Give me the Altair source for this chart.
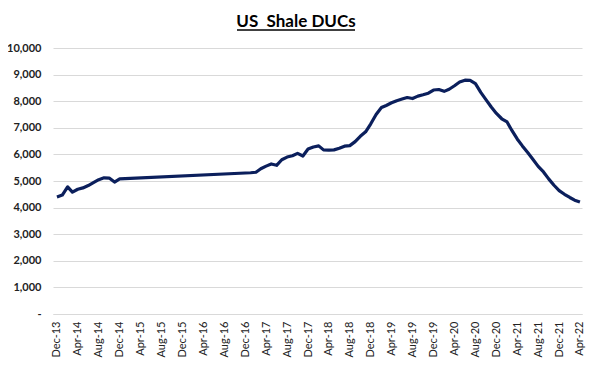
import altair as alt
import pandas as pd

# Monthly DUC counts, first segment Dec-13 .. Dec-14
seg1_start = "2013-12-01"
seg1_values = [4400, 4470, 4780, 4580, 4690, 4740, 4830, 4940, 5050, 5120, 5110, 4960, 5080]

# Second segment Jan-17 .. Apr-22
seg2_start = "2017-01-01"
seg2_values = [
    5310, 5330, 5460, 5560, 5640, 5590, 5800, 5900, 5950, 6040, 5940, 6200,  # 2017
    6280, 6320, 6170, 6160, 6170, 6230, 6310, 6330, 6480, 6680, 6850, 7150,  # 2018
    7500, 7760, 7840, 7940, 8020, 8080, 8140, 8100, 8190, 8240, 8300, 8420,  # 2019
    8440, 8370, 8450, 8580, 8720, 8790, 8780, 8660, 8330, 8060, 7780, 7540,  # 2020
    7340, 7220, 6900, 6580, 6320, 6070, 5820, 5550, 5340, 5080, 4840, 4640,  # 2021
    4500, 4380, 4280, 4210,                                                  # 2022
]

title_text = ["US\u00a0\u00a0Shale DUCs"]

tick_dates = list(pd.date_range("2013-12-01", "2022-04-01", freq="4MS").strftime("%Y-%m-%d"))
y_ticks = [0, 1000, 2000, 3000, 4000, 5000, 6000, 7000, 8000, 9000, 10000]

dates = list(pd.date_range(seg1_start, periods=len(seg1_values), freq="MS")) + \
        list(pd.date_range(seg2_start, periods=len(seg2_values), freq="MS"))
df = pd.DataFrame({"date": dates, "ducs": seg1_values + seg2_values})
tdf = pd.DataFrame({"t": title_text})

FONT = "Lato"
GRID = "#d9d9d9"

line = alt.Chart(df).mark_line(color="#0b1f5c", strokeWidth=3.2, strokeJoin="round").encode(
    x=alt.X(
        "date:T",
        scale=alt.Scale(domain=["2013-11-08", "2022-04-13"]),
        axis=alt.Axis(
            values=tick_dates,
            format="%b-%y",
            labelAngle=270,
            labelFontSize=11,
            labelColor="#222222",
            labelFont=FONT,
            labelPadding=7,
            ticks=False,
            grid=False,
            domain=True,
            domainColor=GRID,
            title=None,
            labelOverlap=False,
        ),
    ),
    y=alt.Y(
        "ducs:Q",
        scale=alt.Scale(domain=[0, 10000], nice=False),
        axis=alt.Axis(
            values=y_ticks,
            labelExpr="datum.value == 0 ? '-' : format(datum.value, ',')",
            labelFontSize=11,
            labelFontWeight="bold",
            labelColor="#222222",
            labelFont=FONT,
            labelPadding=12,
            ticks=False,
            domain=False,
            gridColor=GRID,
            gridWidth=1,
            title=None,
        ),
    ),
)

title = alt.Chart(tdf).mark_text(
    fontSize=17, fontWeight="bold", font=FONT, color="black",
    align="center", baseline="alphabetic", clip=False,
).encode(text="t:N", x=alt.value(243), y=alt.value(-21))

underline = alt.Chart(tdf).mark_rule(color="black", strokeWidth=1.3, clip=False).encode(
    x=alt.value(184), x2=alt.value(302), y=alt.value(-18)
)

chart = alt.layer(line, title, underline).properties(
    width=529,
    height=266,
    padding={"left": 45, "top": 40, "right": 6, "bottom": 44},
    autosize=alt.AutoSizeParams(type="none"),
).configure_view(stroke=None)

chart.save("out.html", embed_options={"renderer": "svg", "actions": False})
